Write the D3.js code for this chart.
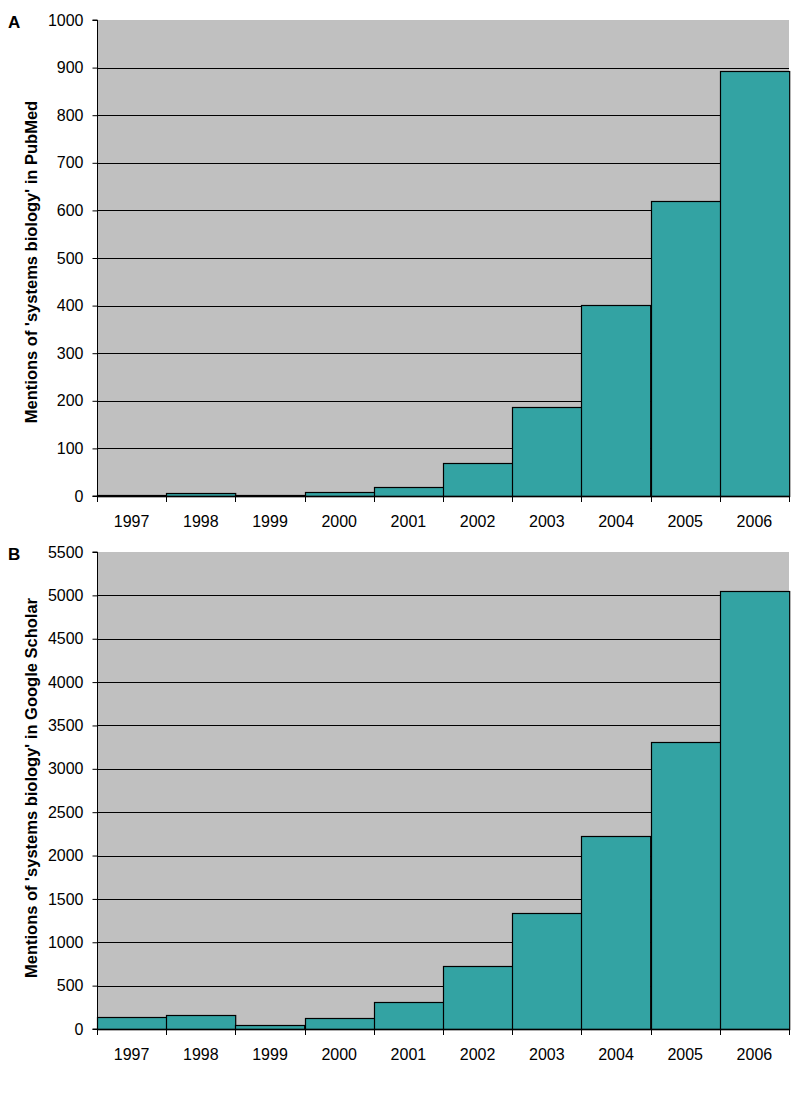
<!DOCTYPE html>
<html>
<head>
<meta charset="utf-8">
<script src="https://cdn.jsdelivr.net/npm/d3@7"></script>
<style>
  body { margin: 0; background: #fff; }
  text { font-family: "Liberation Sans", Arial, sans-serif; }
</style>
</head>
<body>
<svg width="804" height="1100"></svg>
<script>
const years = ["1997", "1998", "1999", "2000", "2001", "2002", "2003", "2004", "2005", "2006"];
const pubmed = [2, 6, 3, 8, 18, 69, 186, 401, 619, 892];
const scholar = [135, 161, 43, 123, 308, 726, 1333, 2220, 3314, 5054];
const pubmedTicks = d3.range(0, 1001, 100);
const scholarTicks = d3.range(0, 5501, 500);

const svg = d3.select("svg");
const left = 97, right = 789;

function panel(letter, values, ticks, max, top, bottom, title, titleMid) {
    const x = d3.scaleBand().domain(years).range([left, right]).padding(0);
    const y = d3.scaleLinear().domain([0, max]).range([bottom, top]);
    const g = svg.append("g");

    g.append("rect")
        .attr("x", left).attr("y", top)
        .attr("width", right - left).attr("height", bottom - top)
        .attr("fill", "#c0c0c0");

    g.selectAll("line.grid")
        .data(ticks.filter(t => t > 0 && t < max))
        .enter().append("line")
        .attr("class", "grid")
        .attr("x1", left).attr("x2", right)
        .attr("y1", d => Math.round(y(d)) + 0.5)
        .attr("y2", d => Math.round(y(d)) + 0.5)
        .attr("stroke", "#000");

    g.selectAll("rect.bar")
        .data(values)
        .enter().append("rect")
        .attr("class", "bar")
        .attr("x", (d, i) => Math.round(x(years[i])) + 0.5)
        .attr("y", d => Math.round(y(d)) + 0.5)
        .attr("width", x.bandwidth())
        .attr("height", d => Math.max(1, Math.round(bottom) - Math.round(y(d))))
        .attr("fill", "#33a3a3")
        .attr("stroke", "#000")
        .attr("stroke-width", 1.2);

    const yAxis = d3.axisLeft(y).tickValues(ticks).tickFormat(d3.format("d")).tickSize(5).tickPadding(9);
    g.append("g")
        .attr("transform", `translate(${left + 0.5},0)`)
        .call(yAxis)
        .call(a => a.select(".domain").attr("d", `M-5,${y(max)}H0V${y(0)}H-5`))
        .call(a => a.selectAll("text").attr("font-size", 16).attr("fill", "#000")
            .style("font-family", "Liberation Sans, Arial, sans-serif"));

    // x axis: line with ticks at category boundaries, labels centred
    const xa = g.append("g");
    xa.append("line")
        .attr("x1", left).attr("x2", right)
        .attr("y1", Math.round(bottom) + 0.5).attr("y2", Math.round(bottom) + 0.5)
        .attr("stroke", "#000").attr("stroke-width", 1.5);
    const bounds = years.map(yr => x(yr)).concat([right]);
    xa.selectAll("line.tk")
        .data(bounds)
        .enter().append("line")
        .attr("class", "tk")
        .attr("x1", d => Math.round(d) + 0.5).attr("x2", d => Math.round(d) + 0.5)
        .attr("y1", bottom).attr("y2", bottom + 6)
        .attr("stroke", "#000");
    xa.selectAll("text")
        .data(years)
        .enter().append("text")
        .attr("x", d => x(d) + x.bandwidth() / 2)
        .attr("y", bottom + 31)
        .attr("text-anchor", "middle")
        .attr("font-size", 16)
        .text(d => d);

    svg.append("text")
        .attr("transform", `translate(37,${titleMid}) rotate(-90)`)
        .attr("text-anchor", "middle")
        .attr("font-size", 16.5)
        .attr("font-weight", "bold")
        .text(title);

    svg.append("text")
        .attr("x", 8).attr("y", top + 8)
        .attr("font-size", 17)
        .attr("font-weight", "bold")
        .text(letter);
}

panel("A", pubmed, pubmedTicks, 1000, 20, 496, "Mentions of 'systems biology' in PubMed", 262);
panel("B", scholar, scholarTicks, 5500, 552, 1029, "Mentions of 'systems biology' in Google Scholar", 788);
</script>
</body>
</html>
